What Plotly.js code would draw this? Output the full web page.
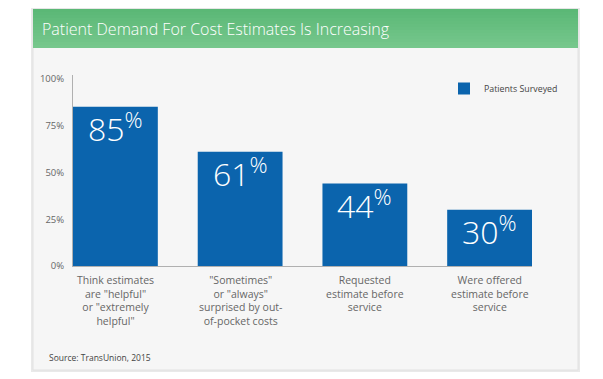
<!DOCTYPE html>
<html><head><meta charset="utf-8">
<script src="https://cdn.plot.ly/plotly-3.0.1.min.js"></script>
<style>html,body{margin:0;padding:0;background:#fff;}#chart{width:603px;height:379px;}</style>
</head><body><div id="chart"></div>
<script>
const categories = [
  'Think estimates<br>are "helpful"<br>or "extremely<br>helpful"',
  '"Sometimes"<br>or "always"<br>surprised by out-<br>of-pocket costs',
  'Requested<br>estimate before<br>service',
  'Were offered<br>estimate before<br>service'
];
const values = [85, 61, 44, 30];
const seriesName = 'Patients Surveyed';
const yTickVals = [0, 25, 50, 75, 100];
const yTickText = ['0%', '25%', '50%', '75%', '100%'];
const chartTitle = 'Patient Demand For Cost Estimates Is Increasing';
const sourceText = 'Source: TransUnion, 2015';

const FONT = 'Open Sans, Lato, sans-serif';

const W = 603, H = 379, L = 73, R = 71, T = 75, B = 113;
const pw = W - L - R, ph = H - T - B;
const px = x => (x - L) / pw;
const py = y => (H - B - y) / ph;

// header gradient strips (overlapping to avoid seams)
const headerShapes = [];
const hTop = 9, hBot = 48;
for (let y = hTop; y < hBot; y += 3) {
  const t = (y - hTop) / (hBot - hTop);
  const r = Math.round(0x5b + (0x78 - 0x5b) * t);
  const g = Math.round(0xb8 + (0xc8 - 0xb8) * t);
  const b = Math.round(0x76 + (0x8e - 0x76) * t);
  headerShapes.push({type:'rect', xref:'paper', yref:'paper', layer:'below',
    x0: px(33), x1: px(578), y0: py(Math.min(y + 4, hBot)), y1: py(y),
    line:{width:0}, fillcolor:`rgb(${r},${g},${b})`});
}

const shapes = [
  {type:'rect', xref:'paper', yref:'paper', layer:'below', x0:px(31), x1:px(580), y0:py(372), y1:py(8), fillcolor:'#e9e9e9', line:{width:0}},
  {type:'rect', xref:'paper', yref:'paper', layer:'below', x0:px(33), x1:px(578), y0:py(370), y1:py(9), fillcolor:'#f6f6f6', line:{color:'#e2e2e2', width:1}},
  ...headerShapes
];

const data = [{
  type: 'bar',
  x: categories,
  y: values,
  name: seriesName,
  marker: {color: '#0b64ad', line:{width:0}},
  hoverinfo: 'none',
  showlegend: true
}];

const valueLabels = values.map((v, i) => ({
  text: v + '<sup>%</sup>', x: categories[i], y: v, xref:'x', yref:'y',
  xanchor:'center', yanchor:'top', yshift: 5, showarrow:false,
  font:{family: FONT, size: 32, color:'#ffffff', weight: 300}
}));
const catLabels = categories.map(c => ({
  text: c, x: c, y: 0, xref:'x', yref:'y', xanchor:'center', yanchor:'top', yshift: -5,
  showarrow:false, align:'center', font:{family: FONT, size: 10.5, color:'#666'}
}));

const layout = {
  width: W, height: H,
  margin: {l: L, r: R, t: T, b: B, pad: 0},
  paper_bgcolor: '#ffffff',
  plot_bgcolor: 'rgba(0,0,0,0)',
  bargap: 0.32,
  font: {family: FONT, color: '#666'},
  xaxis: {
    range: [-0.34, 3.34],
    showline: true, linecolor: '#b0b0b0', linewidth: 1,
    showgrid: false, zeroline: false, ticks: '', showticklabels: false,
    fixedrange: true
  },
  yaxis: {
    range: [0, 102],
    tickvals: yTickVals, ticktext: yTickText,
    showline: true, linecolor: '#b0b0b0', linewidth: 1,
    showgrid: false, zeroline: false, ticks: '',
    ticklabelstandoff: 6,
    tickfont: {family: FONT, size: 9.5, color: '#666'},
    fixedrange: true
  },
  legend: {
    x: px(444), y: py(74), xanchor: 'left', yanchor: 'top',
    bgcolor: 'rgba(0,0,0,0)',
    font: {family: FONT, size: 8.8, color: '#444'},
    itemwidth: 30
  },
  shapes: shapes,
  annotations: [
    {text: chartTitle, xref:'paper', yref:'paper', x: px(40), y: py(29), xanchor:'left', yanchor:'middle', showarrow:false,
     font:{family: FONT, size: 16, color:'#ffffff', weight: 300}},
    {text: sourceText, xref:'paper', yref:'paper', x: px(47), y: py(357), xanchor:'left', yanchor:'middle', showarrow:false,
     font:{family: FONT, size: 8.5, color:'#444'}},
    ...valueLabels,
    ...catLabels
  ]
};

Plotly.newPlot('chart', data, layout, {displayModeBar: false, staticPlot: true});
</script>
</body></html>
